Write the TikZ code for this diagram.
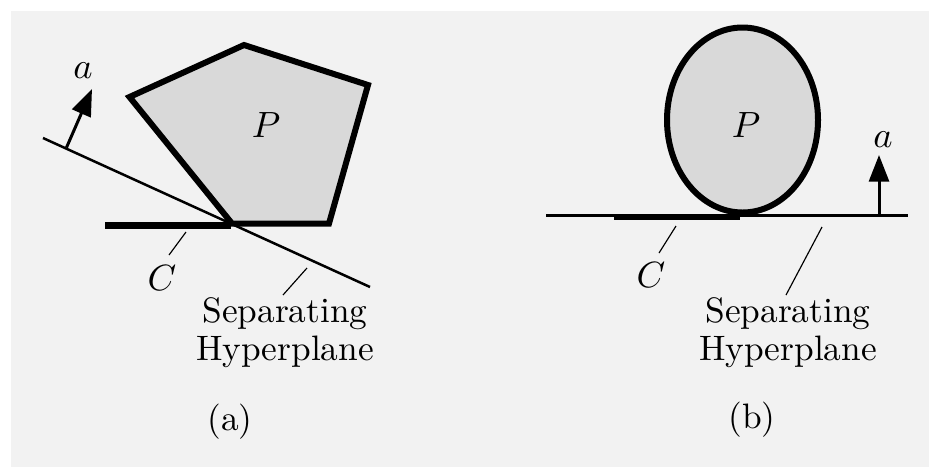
\documentclass[tikz,border=0pt]{standalone}
\usetikzlibrary{arrows.meta}
\definecolor{bggray}{HTML}{F2F2F2}
\definecolor{fillgray}{HTML}{D9D9D9}
\tikzset{
  lbl/.style={inner sep=0pt, anchor=base, font=\fontsize{10.6}{11.3}\selectfont},
  hyper/.style={line width=0.75pt},
  setline/.style={line width=1.8pt, line join=miter},
  cbar/.style={line width=2pt},
  leader/.style={line width=0.35pt},
  normal/.style={line width=0.9pt, -{Triangle[length=8pt,width=6pt]}},
  txt/.style={inner sep=0pt, anchor=north, align=center, font=\fontsize{10.6}{11.3}\selectfont}
}
\begin{document}
\begin{tikzpicture}[x=0.3pt,y=-0.3pt]
\useasboundingbox (0,0) rectangle (929,467);
\fill[white] (0,0) rectangle (929,467);
\fill[bggray] (11,11) rectangle (929,467);

% ---------- panel (a) ----------
\coordinate (p1) at (129.5,97);
\coordinate (p2) at (244,45);
\coordinate (p3) at (368,85);
\coordinate (p4) at (329,223.5);
\coordinate (p5) at (232,223.5);
\filldraw[setline, fill=fillgray] (p1) -- (p2) -- (p3) -- (p4) -- (p5) -- cycle;
\coordinate (ha1) at (43,138);
\coordinate (ha2) at (370,287);
\draw[hyper] (ha1) -- (ha2);
\coordinate (ca1) at (105,225.5);
\coordinate (ca2) at (231,225.5);
\draw[cbar] (ca1) -- (ca2);
\coordinate (aa1) at (66.5,147.5);
\coordinate (aa2) at (92,89);
\draw[normal] (aa1) -- (aa2);
\node[lbl] (la) at (83,78) {$a$};
\node[lbl] (Pa) at (266,137) {$P$};
\node[lbl] (Ca) at (162,290) {$C$};
\coordinate (lca1) at (186,232);
\coordinate (lca2) at (169,255);
\draw[leader] (lca1) -- (lca2);
\coordinate (lha1) at (307,268);
\coordinate (lha2) at (283,295);
\draw[leader] (lha1) -- (lha2);
\node[txt] (Sa) at (285,297) {Separating\\Hyperplane};
\node[lbl] (capa) at (230,430) {(a)};

% ---------- panel (b) ----------
\filldraw[setline, fill=fillgray] (742.5,120) ellipse [x radius=75.5, y radius=92.5];
\coordinate (hb1) at (546,215.5);
\coordinate (hb2) at (908,215.5);
\draw[hyper] (hb1) -- (hb2);
\coordinate (cb1) at (614,217);
\coordinate (cb2) at (740,217);
\draw[cbar] (cb1) -- (cb2);
\coordinate (ab1) at (879,215.5);
\coordinate (ab2) at (879,155);
\draw[normal] (ab1) -- (ab2);
\node[lbl] (lb) at (883,147) {$a$};
\node[lbl] (Pb) at (746,137) {$P$};
\node[lbl] (Cb) at (651,287) {$C$};
\coordinate (lcb1) at (676,226);
\coordinate (lcb2) at (659,253);
\draw[leader] (lcb1) -- (lcb2);
\coordinate (lhb1) at (822,227);
\coordinate (lhb2) at (786,295);
\draw[leader] (lhb1) -- (lhb2);
\node[txt] (Sb) at (788,297) {Separating\\Hyperplane};
\node[lbl] (capb) at (752,428) {(b)};
\end{tikzpicture}
\end{document}
